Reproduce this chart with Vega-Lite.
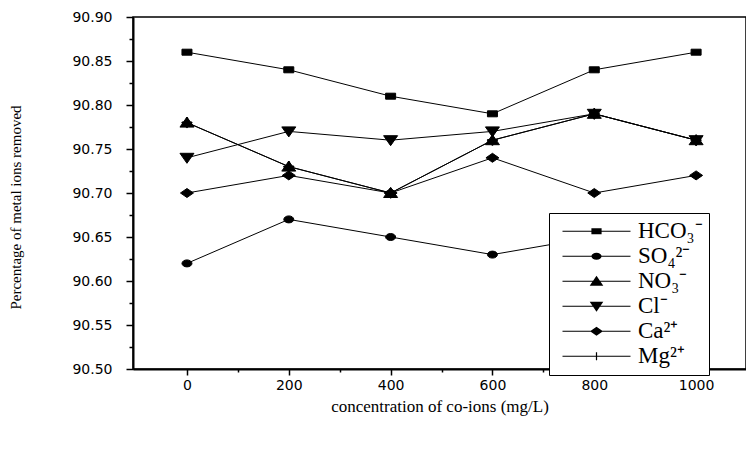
{
  "$schema": "https://vega.github.io/schema/vega-lite/v6.json",
  "autosize": "none",
  "width": 613,
  "height": 352,
  "padding": {"left": 133, "top": 17, "right": 0, "bottom": 80},
  "background": "white",
  "config": {
    "view": {"stroke": "black", "strokeWidth": 1.5},
    "axis": {"grid": false, "domainColor": "black", "domainWidth": 2, "tickColor": "black", "tickWidth": 1.5, "labelColor": "black", "titleColor": "black"}
  },
  "data": {
    "values": [
      {"conc": 0, "removal": 90.86, "ion": "HCO₃⁻"},
      {"conc": 200, "removal": 90.84, "ion": "HCO₃⁻"},
      {"conc": 400, "removal": 90.81, "ion": "HCO₃⁻"},
      {"conc": 600, "removal": 90.79, "ion": "HCO₃⁻"},
      {"conc": 800, "removal": 90.84, "ion": "HCO₃⁻"},
      {"conc": 1000, "removal": 90.86, "ion": "HCO₃⁻"},
      {"conc": 0, "removal": 90.62, "ion": "SO₄²⁻"},
      {"conc": 200, "removal": 90.67, "ion": "SO₄²⁻"},
      {"conc": 400, "removal": 90.65, "ion": "SO₄²⁻"},
      {"conc": 600, "removal": 90.63, "ion": "SO₄²⁻"},
      {"conc": 800, "removal": 90.65, "ion": "SO₄²⁻"},
      {"conc": 1000, "removal": 90.66, "ion": "SO₄²⁻"},
      {"conc": 0, "removal": 90.78, "ion": "NO₃⁻"},
      {"conc": 200, "removal": 90.73, "ion": "NO₃⁻"},
      {"conc": 400, "removal": 90.70, "ion": "NO₃⁻"},
      {"conc": 600, "removal": 90.76, "ion": "NO₃⁻"},
      {"conc": 800, "removal": 90.79, "ion": "NO₃⁻"},
      {"conc": 1000, "removal": 90.76, "ion": "NO₃⁻"},
      {"conc": 0, "removal": 90.74, "ion": "Cl⁻"},
      {"conc": 200, "removal": 90.77, "ion": "Cl⁻"},
      {"conc": 400, "removal": 90.76, "ion": "Cl⁻"},
      {"conc": 600, "removal": 90.77, "ion": "Cl⁻"},
      {"conc": 800, "removal": 90.79, "ion": "Cl⁻"},
      {"conc": 1000, "removal": 90.76, "ion": "Cl⁻"},
      {"conc": 0, "removal": 90.70, "ion": "Ca²⁺"},
      {"conc": 200, "removal": 90.72, "ion": "Ca²⁺"},
      {"conc": 400, "removal": 90.70, "ion": "Ca²⁺"},
      {"conc": 600, "removal": 90.74, "ion": "Ca²⁺"},
      {"conc": 800, "removal": 90.70, "ion": "Ca²⁺"},
      {"conc": 1000, "removal": 90.72, "ion": "Ca²⁺"},
      {"conc": 0, "removal": 90.78, "ion": "Mg²⁺"},
      {"conc": 200, "removal": 90.73, "ion": "Mg²⁺"},
      {"conc": 400, "removal": 90.70, "ion": "Mg²⁺"},
      {"conc": 600, "removal": 90.76, "ion": "Mg²⁺"},
      {"conc": 800, "removal": 90.79, "ion": "Mg²⁺"},
      {"conc": 1000, "removal": 90.76, "ion": "Mg²⁺"}
    ]
  },
  "layer": [
    {
      "mark": {"type": "line", "color": "black", "strokeWidth": 1},
      "encoding": {
        "x": {
          "field": "conc", "type": "quantitative",
          "scale": {"domain": [-106, 1098], "nice": false, "zero": false},
          "axis": {
            "orient": "bottom",
            "values": [0, 200, 400, 600, 800, 1000],
            "format": "d",
            "tickSize": 6, "labelPadding": 3,
            "labelFont": "DejaVu Sans", "labelFontSize": 14, "labelFontWeight": "normal",
            "title": "concentration of co-ions (mg/L)",
            "titleFont": "Liberation Serif", "titleFontSize": 17, "titleFontWeight": "normal",
            "titlePadding": 6
          }
        },
        "y": {
          "field": "removal", "type": "quantitative",
          "scale": {"domain": [90.5, 90.9], "nice": false, "zero": false},
          "axis": {
            "orient": "left",
            "values": [90.5, 90.55, 90.6, 90.65, 90.7, 90.75, 90.8, 90.85, 90.9],
            "format": ".2f",
            "tickSize": 7, "labelPadding": 14,
            "labelFont": "DejaVu Sans", "labelFontSize": 14,
            "title": "Percentage of metal ions removed",
            "titleFont": "Liberation Serif", "titleFontSize": 15, "titleFontWeight": "normal",
            "titleX": -110, "titleY": 190, "titleBaseline": "bottom", "titleAngle": -90
          }
        },
        "detail": {"field": "ion"}
      }
    },
    {
      "mark": {"type": "point", "filled": true, "fill": "black", "stroke": "black", "strokeWidth": 1, "opacity": 1, "size": 100},
      "encoding": {
        "x": {"field": "conc", "type": "quantitative", "axis": null},
        "y": {"field": "removal", "type": "quantitative", "axis": null},
        "shape": {
          "field": "ion", "type": "nominal",
          "scale": {
            "domain": ["HCO₃⁻", "SO₄²⁻", "NO₃⁻", "Cl⁻", "Ca²⁺", "Mg²⁺"],
            "range": [
              "M-1,-0.6H1V0.6H-1Z",
              "M-1,0A1,0.7 0 1,1 1,0A1,0.7 0 1,1 -1,0Z",
              "M0,-1.1L1.4,0.9L-1.4,0.9Z",
              "M-1.4,-0.9L1.4,-0.9L0,1.1Z",
              "M-1.3,0L0,-0.9L1.3,0L0,0.9Z",
              "M-1,-0.12H1V0.12H-1ZM-0.12,-1H0.12V1H-0.12Z"
            ]
          },
          "legend": null
        }
      }
    },
    {
      "transform": [{"filter": "datum.conc < -5000"}],
      "mark": {"type": "point", "filled": true, "fill": "black", "stroke": "black", "strokeWidth": 1, "opacity": 1},
      "encoding": {
        "x": {
          "field": "conc", "type": "quantitative",
          "axis": {"orient": "bottom", "values": [100, 300, 500, 700, 900], "tickSize": 3, "labels": false, "domain": false, "title": null}
        },
        "y": {
          "field": "removal", "type": "quantitative",
          "axis": {"orient": "left", "values": [90.525, 90.575, 90.625, 90.675, 90.725, 90.775, 90.825, 90.875], "tickSize": 4, "labels": false, "domain": false, "title": null}
        },
        "shape": {
          "field": "ion", "type": "nominal",
          "scale": {
            "domain": ["HCO₃⁻", "SO₄²⁻", "NO₃⁻", "Cl⁻", "Ca²⁺", "Mg²⁺"],
            "range": [
              "M-1,-0.015H1V0.015H-1ZM-0.15,-0.09H0.15V0.09H-0.15Z",
              "M-1,-0.015H1V0.015H-1ZM-0.15,0A0.15,0.1 0 1,1 0.15,0A0.15,0.1 0 1,1 -0.15,0Z",
              "M-1,-0.015H1V0.015H-1ZM0,-0.16L0.2,0.13L-0.2,0.13Z",
              "M-1,-0.015H1V0.015H-1ZM-0.2,-0.13L0.2,-0.13L0,0.16Z",
              "M-1,-0.015H1V0.015H-1ZM-0.19,0L0,-0.13L0.19,0L0,0.13Z",
              "M-1,-0.015H1V0.015H-1ZM-0.018,-0.12H0.018V0.12H-0.018Z"
            ]
          },
          "legend": {
            "title": null,
            "orient": "none", "legendX": 416, "legendY": 196,
            "symbolSize": 4624,
            "clipHeight": 24.5,
            "rowPadding": 0,
            "padding": 6,
            "symbolOffset": 7,
            "labelOffset": 7,
            "labelFont": "Liberation Serif", "labelFontSize": 23, "labelColor": "black",
            "strokeColor": "black", "fillColor": "white",
            "symbolStrokeWidth": 1, "symbolFillColor": "black", "symbolStrokeColor": "black",
            "symbolOpacity": 1,
            "encode": {"symbols": {"stroke": {"value": "black"}, "fill": {"value": "black"}, "strokeWidth": {"value": 1}, "opacity": {"value": 1}}}
          }
        }
      }
    }
  ],
  "resolve": {
    "scale": {"shape": "independent"},
    "axis": {"x": "independent", "y": "independent"}
  }
}
